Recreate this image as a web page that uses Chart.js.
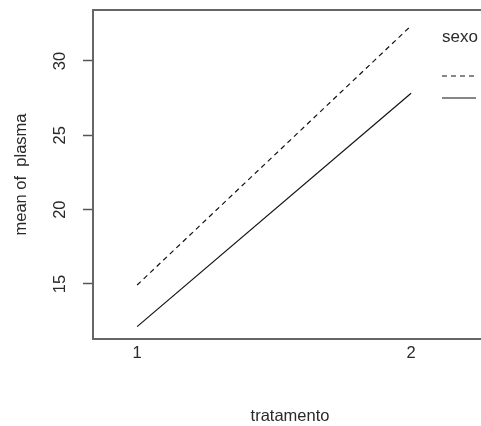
<!DOCTYPE html>
<html>
<head>
<meta charset="utf-8">
<script src="https://cdn.jsdelivr.net/npm/chart.js@4"></script>
<style>
  html, body { margin: 0; padding: 0; background: #fff; overflow: hidden; }
  #wrap { width: 481px; height: 426px; overflow: hidden; }
  #box { width: 490px; height: 426px; }
</style>
</head>
<body>
<div id="wrap"><div id="box"><canvas id="c"></canvas></div></div>
<script>
  // interaction plot: mean of plasma by tratamento, one line per sexo
  const tratamento = [1, 2];
  const sexoLabels = ["F", "M"];
  const meanF = [14.93, 32.37];
  const meanM = [12.13, 27.83];
  const yTicks = [15, 20, 25, 30];
  const xTicks = [1, 2];

  const FONT = "'Liberation Sans', Arial, sans-serif";
  const INK = "#2a2a2a";

  const pts = arr => tratamento.map((t, i) => ({ x: t, y: arr[i] }));

  // R-style box + legend
  const boxLegend = {
    id: "boxLegend",
    afterDraw(chart) {
      const ctx = chart.ctx, a = chart.chartArea;
      ctx.save();
      ctx.strokeStyle = "#666";
      ctx.lineWidth = 2;
      ctx.strokeRect(a.left, a.top, a.right - a.left, a.bottom - a.top);

      ctx.fillStyle = INK;
      ctx.font = "17px " + FONT;
      ctx.textBaseline = "middle";
      ctx.textAlign = "left";
      ctx.fillText("sexo", 442, 37);

      chart.data.datasets.forEach((ds, i) => {
        const y = 76 + i * 22;
        ctx.strokeStyle = ds.borderColor;
        ctx.lineWidth = ds.borderWidth;
        ctx.setLineDash(ds.borderDash || []);
        ctx.beginPath();
        ctx.moveTo(442, y);
        ctx.lineTo(476, y);
        ctx.stroke();
        ctx.setLineDash([]);
        ctx.fillText(ds.label, 486, y);
      });
      ctx.restore();
    }
  };

  new Chart(document.getElementById("c"), {
    type: "line",
    data: {
      datasets: [
        { label: sexoLabels[0], data: pts(meanF), borderColor: "#111", borderWidth: 1.2, borderDash: [5, 4], pointRadius: 0, fill: false },
        { label: sexoLabels[1], data: pts(meanM), borderColor: "#111", borderWidth: 1.2, pointRadius: 0, fill: false }
      ]
    },
    options: {
      responsive: true,
      maintainAspectRatio: false,
      animation: false,
      layout: { padding: { top: 10, right: 3, left: 0, bottom: 0 } },
      plugins: { legend: { display: false }, tooltip: { enabled: false } },
      scales: {
        x: {
          type: "linear",
          min: 0.839,
          max: 2.277,
          afterBuildTicks: s => { s.ticks = xTicks.map(v => ({ value: v })); },
          afterFit: s => { s.height = 87; s.paddingLeft = 0; s.paddingRight = 0; },
          border: { display: false },
          grid: { display: false, drawTicks: false },
          ticks: { color: INK, font: { family: FONT, size: 16.5 }, padding: 5, maxRotation: 0 },
          title: { display: true, text: "tratamento", color: INK, font: { family: FONT, size: 16.5 }, padding: { top: 0, bottom: 0 } }
        },
        y: {
          min: 11.3,
          max: 33.43,
          afterBuildTicks: s => { s.ticks = yTicks.map(v => ({ value: v })); },
          afterFit: s => { s.width = 93; s.paddingTop = 0; s.paddingBottom = 0; },
          border: { display: false },
          grid: { display: true, drawOnChartArea: false, drawTicks: true, tickLength: 10, tickColor: "#555", tickWidth: 1.5 },
          ticks: { color: INK, font: { family: FONT, size: 16.5 }, padding: 13, minRotation: 90, maxRotation: 90, crossAlign: "center" },
          title: { display: true, text: "mean of  plasma", color: INK, font: { family: FONT, size: 16.5 }, padding: { top: 12, bottom: 0 } }
        }
      }
    },
    plugins: [boxLegend]
  });
</script>
</body>
</html>
